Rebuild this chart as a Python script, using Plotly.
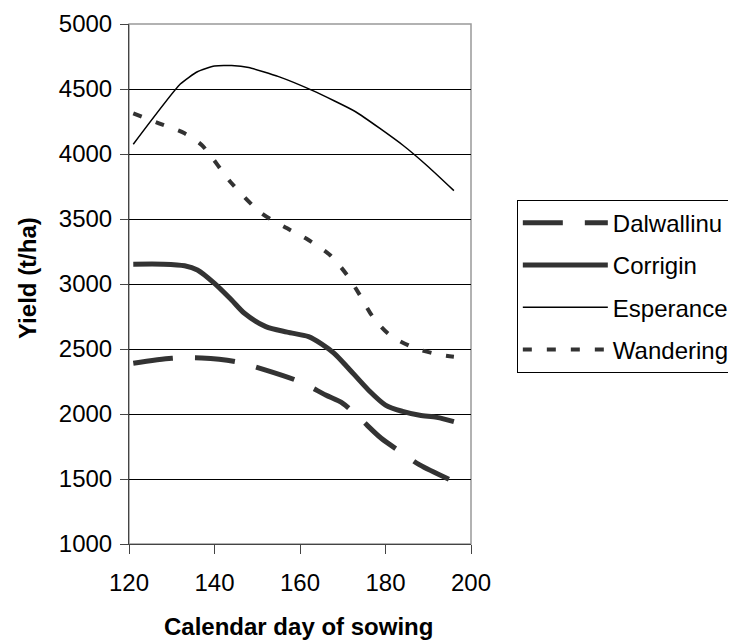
import plotly.graph_objects as go

# ---- data ----
dal_days = [121, 130, 137, 145, 152, 160, 166, 170, 174, 179, 184, 188, 196]
dal_yield = [2390, 2428, 2431, 2402, 2338, 2248, 2146, 2082, 1967, 1813, 1698, 1608, 1480]

cor_days = [121, 128, 133, 136, 140, 144, 147, 152, 157, 162, 165, 168, 171, 176, 180, 184, 188, 192, 196]
cor_yield = [3152, 3152, 3140, 3108, 3005, 2877, 2775, 2672, 2630, 2595, 2540, 2467, 2364, 2185, 2069, 2020, 1990, 1974, 1941]

esp_days = [121, 132, 136, 140, 144, 148, 155, 163, 173, 184, 190, 196]
esp_yield = [4075, 4538, 4633, 4677, 4680, 4665, 4595, 4487, 4325, 4069, 3902, 3718]

wan_days = [121, 127, 133, 137, 144, 151, 157, 162, 167, 171, 174, 177, 181, 187, 193, 196]
wan_yield = [4313, 4236, 4159, 4069, 3775, 3544, 3428, 3338, 3223, 3069, 2915, 2749, 2608, 2505, 2454, 2440]

x_ticks = [120, 140, 160, 180, 200]
y_ticks = [1000, 1500, 2000, 2500, 3000, 3500, 4000, 4500, 5000]

FONT = "Liberation Sans, Arial, sans-serif"
DARK = "#333333"

# plot area in figure pixels
L, T, W, H = 121, 16, 342, 520

fig = go.Figure()
fig.add_trace(go.Scatter(x=dal_days, y=dal_yield, name="Dalwallinu", mode="lines",
                         legendgroup="a",
                         line=dict(color=DARK, width=5, dash="40px,22px", shape="spline", smoothing=0.8)))
fig.add_trace(go.Scatter(x=cor_days, y=cor_yield, name="Corrigin", mode="lines",
                         legendgroup="b",
                         line=dict(color=DARK, width=5, shape="spline", smoothing=0.8)))
fig.add_trace(go.Scatter(x=esp_days, y=esp_yield, name="Esperance", mode="lines",
                         legendgroup="c",
                         line=dict(color="#000000", width=1.5, shape="spline", smoothing=0.5)))
fig.add_trace(go.Scatter(x=wan_days, y=wan_yield, name="Wandering", mode="lines",
                         legendgroup="d",
                         line=dict(color=DARK, width=4, dash="9px,15px", shape="spline", smoothing=0.8)))

fig.update_layout(
    width=736, height=641,
    margin=dict(l=L, r=736 - L - W, t=T, b=641 - T - H, autoexpand=False),
    paper_bgcolor="white", plot_bgcolor="white",
    font=dict(family=FONT, size=24, color="#000000"),
    showlegend=True,
    legend=dict(x=1.134, y=0.662, xanchor="left", yanchor="top",
                bgcolor="white", bordercolor="#000000", borderwidth=1,
                font=dict(family=FONT, size=24, color="#000000"),
                tracegroupgap=8, itemwidth=85, traceorder="grouped"),
    xaxis=dict(range=[120, 200], tickvals=x_ticks, ticktext=[str(v) for v in x_ticks],
               showgrid=False, zeroline=False, showline=True, linecolor="#444444", linewidth=1,
               ticks="outside", ticklen=9, tickcolor="#444444", tickfont=dict(size=24),
               ticklabelstandoff=8),
    yaxis=dict(range=[1000, 5000], tickvals=y_ticks, ticktext=[str(v) for v in y_ticks],
               showgrid=True, gridcolor="#000000", gridwidth=1, zeroline=False,
               showline=True, linecolor="#444444", linewidth=1,
               ticks="outside", ticklen=8, tickcolor="#444444", tickfont=dict(size=24),
               ticklabelstandoff=3),
    shapes=[dict(type="rect", xref="paper", yref="paper", x0=0, x1=1, y0=0, y1=1,
                 line=dict(color="#999999", width=1.5), layer="below")],
    annotations=[
        dict(text="<b>Yield (t/ha)</b>", xref="paper", yref="paper", x=(19 - L) / W, y=(T + H - 270) / H,
             xanchor="center", yanchor="middle", textangle=-90, showarrow=False,
             font=dict(family=FONT, size=24)),
        dict(text="<b>Calendar day of sowing</b>", xref="paper", yref="paper", x=(290 - L) / W,
             y=(T + H - 619) / H,
             xanchor="center", yanchor="middle", showarrow=False,
             font=dict(family=FONT, size=24)),
    ],
)

fig.write_html("out.html")
